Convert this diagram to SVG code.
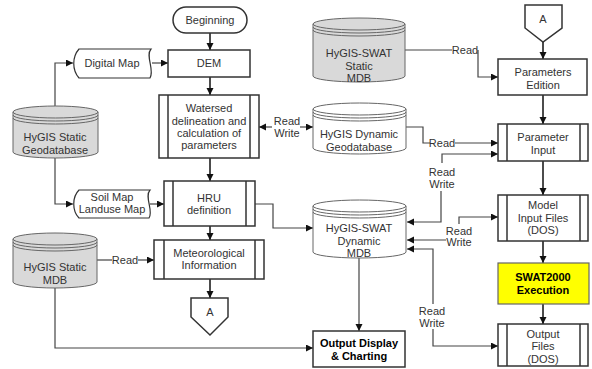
<svg xmlns="http://www.w3.org/2000/svg" width="592" height="369" viewBox="0 0 592 369">
<defs>
<marker id="ah" markerUnits="userSpaceOnUse" markerWidth="8" markerHeight="8" refX="7" refY="3.5" orient="auto">
<path d="M0,0 L7,3.5 L0,7 z" fill="#111"/>
</marker>
</defs>
<style>
text{font-family:"Liberation Sans",Arial,sans-serif;font-size:11px;fill:#333;text-anchor:middle}
.b{font-weight:bold;fill:#000}
.box{fill:#fff;stroke:#333;stroke-width:1.5}
.bar{stroke:#333;stroke-width:1.5;fill:none}
.cyl{stroke:#666;stroke-width:1;fill:#fff}
.cg{fill:#d9d9d9}
.arc{fill:none;stroke:#666;stroke-width:1}
.ln{fill:none;stroke:#444;stroke-width:1.2}
.fl{fill:none;stroke:#111;stroke-width:1.5}
.ar{marker-end:url(#ah)}
</style>

<g id="connectors">
<path class="fl ar" d="M210,33 V50"/>
<path class="fl ar" d="M210,77 V95"/>
<path class="fl ar" d="M210,158 V181"/>
<path class="fl ar" d="M210,226 V240"/>
<path class="fl ar" d="M210,279 V298"/>
<path class="fl ar" d="M543,42 V59"/>
<path class="fl ar" d="M543,95 V124"/>
<path class="fl ar" d="M543,161 V195"/>
<path class="fl ar" d="M543,241 V263"/>
<path class="fl ar" d="M543,304 V324"/>
<path class="ln ar" d="M55,106 V63 H73"/>
<path class="ln ar" d="M55,158 V204 H73"/>
<path class="ln ar" d="M152,63 H168"/>
<path class="ln ar" d="M150,204 H164"/>
<path class="ln ar" d="M55,288 V348 H313"/>
<path class="ln" d="M97,260 H112"/>
<path class="ln ar" d="M138,260 H154"/>
<path class="ln ar" d="M255,204 H273 V228 H313"/>
<path class="ln ar" d="M272,127 H259"/>
<path class="ln ar" d="M300,127 H313"/>
<path class="ln" d="M406,127 H423 V143 H430"/>
<path class="ln ar" d="M455,143 H498"/>
<path class="ln" d="M405,50 H452"/>
<path class="ln ar" d="M478,50 V77 H498"/>
<path class="ln ar" d="M442,163 V154 H498"/>
<path class="ln ar" d="M441,191 V222 H407"/>
<path class="ln ar" d="M459,224 V217 H498"/>
<path class="ln ar" d="M446,240 H407"/>
<path class="ln ar" d="M433,304 V249 H407"/>
<path class="ln ar" d="M433,329 V346 H498"/>
<path class="ln ar" d="M359,258 V331"/>
<text x="125" y="264">Read</text>
<text x="287" y="125">Read</text>
<text x="287" y="137">Write</text>
<text x="442" y="147">Read</text>
<text x="465" y="54">Read</text>
<text x="442" y="176">Read</text>
<text x="442" y="188">Write</text>
<text x="459" y="235">Read</text>
<text x="459" y="246">Write</text>
<text x="432" y="315">Read</text>
<text x="432" y="327">Write</text>
</g>

<g id="beginning">
<rect x="173" y="7" width="74" height="26" rx="13" class="box"/>
<text x="210" y="24">Beginning</text>
</g>

<g id="dem">
<rect x="168" y="50" width="82" height="27" class="box"/>
<text x="209" y="67">DEM</text>
</g>

<g id="watershed">
<rect x="159" y="95" width="100" height="63" class="box"/>
<path class="bar" d="M168,95 V158 M250,95 V158"/>
<text x="209" y="112">Watersed</text>
<text x="209" y="124.5">delineation and</text>
<text x="209" y="137">calculation of</text>
<text x="209" y="149">parameters</text>
</g>

<g id="hru">
<rect x="164" y="181" width="91" height="45" class="box"/>
<path class="bar" d="M173,181 V226 M246,181 V226"/>
<text x="209" y="202">HRU</text>
<text x="209" y="214">definition</text>
</g>

<g id="meteo">
<rect x="154" y="240" width="110" height="39" class="box"/>
<path class="bar" d="M164,240 V279 M255,240 V279"/>
<text x="209" y="257">Meteorological</text>
<text x="209" y="269">Information</text>
</g>

<g id="a-bottom">
<path d="M191,298 H228 V317 L210,335 L191,317 Z" class="box" stroke-width="1.2"/>
<text x="210" y="316">A</text>
</g>

<g id="digital-map">
<path d="M79,49 H151 C145,56 155,70 150,78 H79 C72,70 72,57 79,49 Z" fill="#fff" stroke="#333" stroke-width="1.2"/>
<text x="112" y="67">Digital Map</text>
</g>

<g id="soil-map">
<path d="M79,190 H150 C144,197 154,211 149,218 H79 C72,211 72,197 79,190 Z" fill="#fff" stroke="#333" stroke-width="1.2"/>
<text x="112" y="201">Soil Map</text>
<text x="112" y="213">Landuse Map</text>
</g>

<g id="static-geodatabase">
<path class="cyl cg" d="M13,112 V152 A42.5,6 0 0 0 98,152 V112 Z"/>
<ellipse class="cyl cg" cx="55.5" cy="112" rx="42.5" ry="6"/>
<path class="arc" d="M13,115 A42.5,6 0 0 0 98,115 M13,118 A42.5,6 0 0 0 98,118"/>
<text x="55" y="141">HyGIS Static</text>
<text x="55" y="154">Geodatabase</text>
</g>

<g id="static-mdb">
<path class="cyl cg" d="M13,239 V282 A42,6 0 0 0 97,282 V239 Z"/>
<ellipse class="cyl cg" cx="55" cy="239" rx="42" ry="6"/>
<path class="arc" d="M13,242 A42,6 0 0 0 97,242 M13,245 A42,6 0 0 0 97,245"/>
<text x="55" y="271">HyGIS Static</text>
<text x="55" y="283.5">MDB</text>
</g>

<g id="swat-static-mdb">
<path class="cyl cg" d="M313,24 V76 A46,6 0 0 0 405,76 V24 Z"/>
<ellipse class="cyl cg" cx="359" cy="24" rx="46" ry="6"/>
<path class="arc" d="M313,27 A46,6 0 0 0 405,27 M313,30 A46,6 0 0 0 405,30"/>
<text x="359" y="57">HyGIS-SWAT</text>
<text x="359" y="69.5">Static</text>
<text x="359" y="82">MDB</text>
</g>

<g id="dynamic-geodatabase">
<path class="cyl" d="M313,109 V148 A46.5,6 0 0 0 406,148 V109 Z"/>
<ellipse class="cyl" cx="359.5" cy="109" rx="46.5" ry="6"/>
<path class="arc" d="M313,112 A46.5,6 0 0 0 406,112 M313,115 A46.5,6 0 0 0 406,115"/>
<text x="359" y="138">HyGIS Dynamic</text>
<text x="359" y="151">Geodatabase</text>
</g>

<g id="swat-dynamic-mdb">
<path class="cyl" d="M313,206 V252 A46.5,6 0 0 0 406,252 V206 Z"/>
<ellipse class="cyl" cx="359.5" cy="206" rx="46.5" ry="6"/>
<path class="arc" d="M313,209 A46.5,6 0 0 0 406,209 M313,212 A46.5,6 0 0 0 406,212"/>
<text x="359" y="232">HyGIS-SWAT</text>
<text x="359" y="244.5">Dynamic</text>
<text x="359" y="257">MDB</text>
</g>

<g id="output-display">
<rect x="313" y="331" width="92" height="36" class="box"/>
<text class="b" x="359" y="347">Output Display</text>
<text class="b" x="359" y="359.5">&amp; Charting</text>
</g>

<g id="a-top">
<path d="M525,5 H562 V28 L543,42 L525,28 Z" class="box" stroke-width="1.2"/>
<text x="543" y="23">A</text>
</g>

<g id="parameters-edition">
<rect x="498" y="59" width="89" height="36" class="box" stroke-width="2"/>
<text x="543" y="76">Parameters</text>
<text x="543" y="88.5">Edition</text>
</g>

<g id="parameter-input">
<rect x="498" y="124" width="90" height="37" class="box"/>
<path class="bar" d="M507,124 V161 M580,124 V161"/>
<text x="543" y="141">Parameter</text>
<text x="543" y="153.5">Input</text>
</g>

<g id="model-input">
<rect x="498" y="195" width="90" height="46" class="box"/>
<path class="bar" d="M507,195 V241 M580,195 V241"/>
<text x="543" y="208.5">Model</text>
<text x="543" y="221.5">Input Files</text>
<text x="543" y="234">(DOS)</text>
</g>

<g id="swat2000">
<rect x="498" y="263" width="91" height="41" fill="#ffff00" stroke="#666" stroke-width="1.2"/>
<text class="b" x="543" y="281">SWAT2000</text>
<text class="b" x="543" y="293.5">Execution</text>
</g>

<g id="output-files">
<rect x="498" y="324" width="90" height="42" class="box"/>
<path class="bar" d="M507,324 V366 M580,324 V366"/>
<text x="543" y="337.5">Output</text>
<text x="543" y="350">Files</text>
<text x="543" y="362.5">(DOS)</text>
</g>
</svg>
